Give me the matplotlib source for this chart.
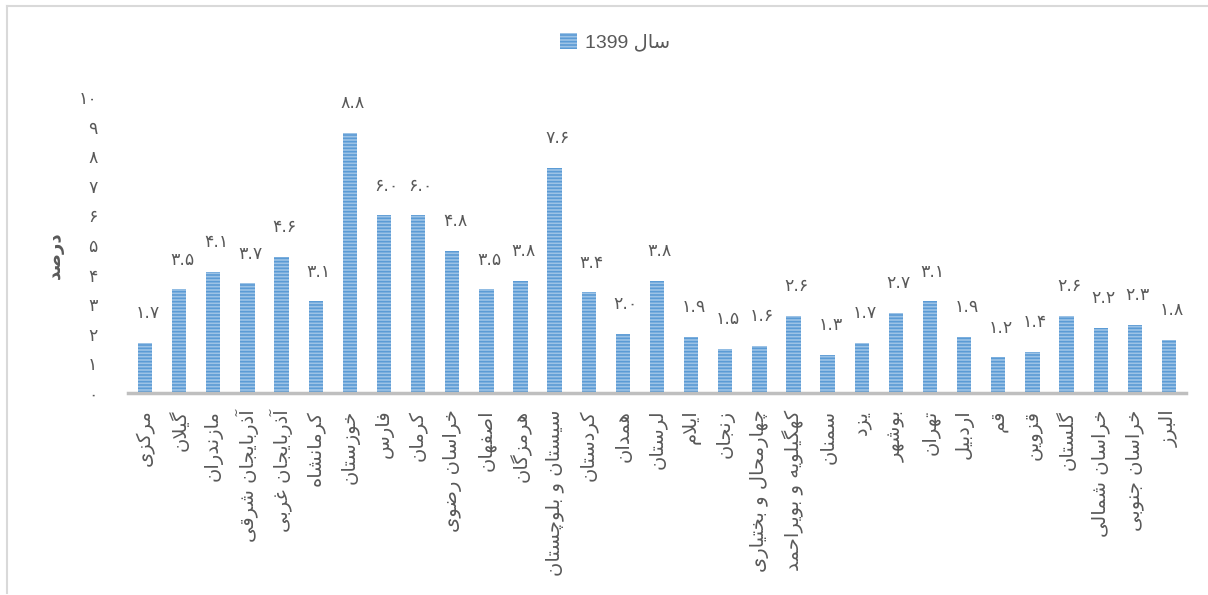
import matplotlib
matplotlib.use("Agg")
import matplotlib.pyplot as plt
from matplotlib.lines import Line2D
from matplotlib.patches import Patch

# ---------------- data ----------------
provinces = ["مرکزی", "گیلان", "مازندران", "آذربایجان شرقی", "آذربایجان غربی",
             "کرمانشاه", "خوزستان", "فارس", "کرمان", "خراسان رضوی", "اصفهان",
             "هرمزگان", "سیستان و بلوچستان", "کردستان", "همدان", "لرستان",
             "ایلام", "زنجان", "چهارمحال و بختیاری", "کهگیلویه و بویراحمد",
             "سمنان", "یزد", "بوشهر", "تهران", "اردبیل", "قم", "قزوین",
             "گلستان", "خراسان شمالی", "خراسان جنوبی", "البرز"]
values = [1.7, 3.5, 4.1, 3.7, 4.6, 3.1, 8.8, 6.0, 6.0, 4.8, 3.5,
          3.8, 7.6, 3.4, 2.0, 3.8, 1.9, 1.5, 1.6, 2.6,
          1.3, 1.7, 2.7, 3.1, 1.9, 1.2, 1.4, 2.6, 2.2, 2.3, 1.8]
series_name = "سال"
series_year = "1399"
y_label = "درصد"
y_ticks = list(range(0, 11))

# ---------------- simple Persian shaping ----------------
FORMS = {  # isolated, final, initial, medial
    'ا': (0xFE8D, 0xFE8E, None, None), 'آ': (0xFE81, 0xFE82, None, None),
    'ب': (0xFE8F, 0xFE90, 0xFE91, 0xFE92), 'پ': (0xFB56, 0xFB57, 0xFB58, 0xFB59),
    'ت': (0xFE95, 0xFE96, 0xFE97, 0xFE98), 'ج': (0xFE9D, 0xFE9E, 0xFE9F, 0xFEA0),
    'چ': (0xFB7A, 0xFB7B, 0xFB7C, 0xFB7D), 'ح': (0xFEA1, 0xFEA2, 0xFEA3, 0xFEA4),
    'خ': (0xFEA5, 0xFEA6, 0xFEA7, 0xFEA8), 'د': (0xFEA9, 0xFEAA, None, None),
    'ذ': (0xFEAB, 0xFEAC, None, None), 'ر': (0xFEAD, 0xFEAE, None, None),
    'ز': (0xFEAF, 0xFEB0, None, None), 'ژ': (0xFB8A, 0xFB8B, None, None),
    'س': (0xFEB1, 0xFEB2, 0xFEB3, 0xFEB4), 'ش': (0xFEB5, 0xFEB6, 0xFEB7, 0xFEB8),
    'ص': (0xFEB9, 0xFEBA, 0xFEBB, 0xFEBC), 'ض': (0xFEBD, 0xFEBE, 0xFEBF, 0xFEC0),
    'ع': (0xFEC9, 0xFECA, 0xFECB, 0xFECC), 'غ': (0xFECD, 0xFECE, 0xFECF, 0xFED0),
    'ف': (0xFED1, 0xFED2, 0xFED3, 0xFED4), 'ق': (0xFED5, 0xFED6, 0xFED7, 0xFED8),
    'ک': (0xFB8E, 0xFB8F, 0xFB90, 0xFB91), 'گ': (0xFB92, 0xFB93, 0xFB94, 0xFB95),
    'ل': (0xFEDD, 0xFEDE, 0xFEDF, 0xFEE0), 'م': (0xFEE1, 0xFEE2, 0xFEE3, 0xFEE4),
    'ن': (0xFEE5, 0xFEE6, 0xFEE7, 0xFEE8), 'و': (0xFEED, 0xFEEE, None, None),
    'ه': (0xFEE9, 0xFEEA, 0xFEEB, 0xFEEC), 'ی': (0xFBFC, 0xFBFD, 0xFBFE, 0xFBFF),
}


def dual(c):
    return c in FORMS and FORMS[c][2] is not None


def shape(text):
    out = []
    chars = list(text)
    i = 0
    n = len(chars)
    while i < n:
        c = chars[i]
        if c not in FORMS:
            out.append(c)
            i += 1
            continue
        prev = chars[i - 1] if i > 0 else None
        jp = prev is not None and dual(prev)
        if c == 'ل' and i + 1 < n and chars[i + 1] in ('ا', 'آ'):
            if chars[i + 1] == 'ا':
                out.append(chr(0xFEFC if jp else 0xFEFB))
            else:
                out.append(chr(0xFEF6 if jp else 0xFEF5))
            i += 2
            continue
        nxt = chars[i + 1] if i + 1 < n else None
        jn = dual(c) and nxt is not None and nxt in FORMS
        iso, fin, ini, med = FORMS[c]
        if jp and jn:
            cp = med
        elif jp:
            cp = fin
        elif jn:
            cp = ini
        else:
            cp = iso
        out.append(chr(cp))
        i += 1
    return ''.join(reversed(out))


def fa_digits(s):
    return s.translate(str.maketrans("0123456789", "۰۱۲۳۴۵۶۷۸۹"))


# ---------------- figure ----------------
FONT = ['DejaVu Sans']
TXT = '#595959'
FACE = '#9DC3E6'
HATCH = '#5B9BD5'
plt.rcParams['font.family'] = FONT
plt.rcParams['hatch.linewidth'] = 1.2

W, H = 1208, 595
fig = plt.figure(figsize=(W / 100, H / 100), dpi=100)
ax = fig.add_axes([128 / W, 1 - 393 / H, (1186 - 128) / W, (393 - 97) / H])

x = list(range(len(values)))
ax.bar(x, values, width=0.42, facecolor=FACE, edgecolor=HATCH,
       hatch='-----', linewidth=0, zorder=2)

for xi, v in zip(x, values):
    ax.text(xi + 0.08, v + 1.0, fa_digits(f"{v:.1f}"), ha='center', va='center',
            fontsize=12.5, color=TXT)

ax.set_xlim(-0.5, len(values) - 0.5)
ax.set_ylim(0, 10)
ax.set_yticks(y_ticks)
ax.set_yticklabels([fa_digits(str(t)) for t in y_ticks], fontsize=12.5, color=TXT)
ax.set_xticks(x)
ax.set_xticklabels([shape(p) for p in provinces], rotation=90, fontsize=14,
                   color=TXT, va='top', ha='center')
ax.tick_params(axis='y', length=0, pad=22)
ax.tick_params(axis='x', length=0, pad=12)
for s in ['top', 'right', 'left']:
    ax.spines[s].set_visible(False)
ax.spines['bottom'].set_color('#BFBFBF')
ax.spines['bottom'].set_linewidth(2.5)
ax.spines['bottom'].set_zorder(3)

fig.text(55 / W, 1 - 255 / H, shape(y_label), rotation=90, ha='center', va='center',
         fontsize=13, fontweight='bold', color=TXT)

handle = Patch(facecolor=FACE, edgecolor=HATCH, hatch='-----', linewidth=0)
fig.legend([handle], [series_year + " " + shape(series_name)], loc='center',
           bbox_to_anchor=(615 / W, 1 - 42 / H), frameon=False,
           handlelength=0.9, handleheight=0.9, handletextpad=0.4,
           labelcolor=TXT, prop={'family': ['Liberation Sans', 'DejaVu Sans'], 'size': 14})

# outer chart frame
fig.add_artist(Line2D([7 / W, 1], [1 - 6 / H, 1 - 6 / H], color='#D9D9D9', lw=1.5,
                      transform=fig.transFigure))
fig.add_artist(Line2D([7 / W, 7 / W], [1 - 6 / H, 1 - 593 / H], color='#D9D9D9', lw=1.5,
                      transform=fig.transFigure))

fig.savefig('out.png', dpi=100, facecolor='white')
